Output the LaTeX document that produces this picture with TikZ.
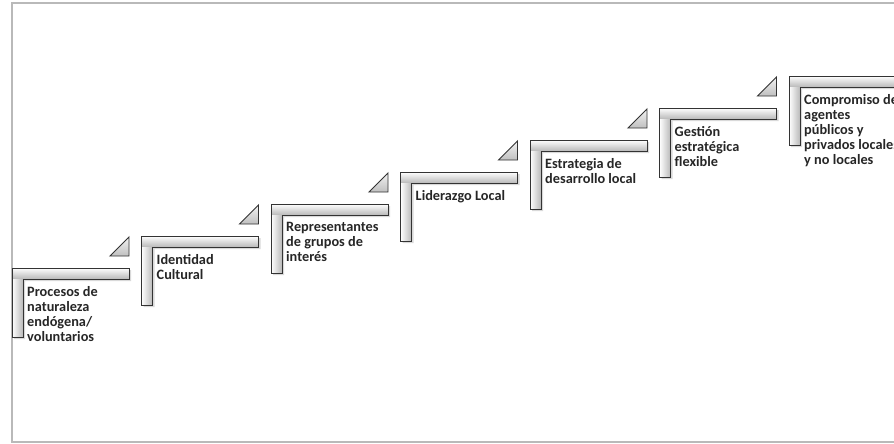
\documentclass[tikz,border=0pt]{standalone}
\usepackage{fontspec}
\setmainfont{Carlito}
\usetikzlibrary{positioning}

\tikzset{
  frame/.style={draw=gray!55, line width=2pt},
  barline/.style={draw=black!80, line width=0.9pt, line join=miter},
  hbar/.style={top color=white, bottom color=gray!55},
  vbar/.style={left color=white, right color=gray!55},
  wedge/.style={draw=black!80, line width=0.9pt, line join=miter, top color=gray!10, bottom color=gray!50},
  steptext/.style={anchor=north west, align=left, inner sep=0pt, text=black!85,
    font=\fontsize{14.3}{15}\selectfont\bfseries}
}

\begin{document}
\begin{tikzpicture}[x=1pt,y=-1pt]
  \useasboundingbox (0,0) rectangle (894,444);
  \clip (0,0) rectangle (894,444);
  \fill[white] (0,0) rectangle (894,444);
  \draw[frame] (900,3) -- (12,3) -- (12,442) -- (900,442);
  \foreach \i/\txt in {
      1/{Procesos de\\naturaleza\\endógena/\\voluntarios},
      2/{Identidad\\Cultural},
      3/{Representantes\\de grupos de\\interés},
      4/{Liderazgo Local},
      5/{Estrategia de\\desarrollo local},
      6/{Gestión\\estratégica\\flexible},
      7/{Compromiso de\\agentes\\públicos y\\privados locales\\y no locales}} {
    \pgfmathsetmacro\xa{12+129.5*(\i-1)}
    \pgfmathsetmacro\ya{268-32*(\i-1)}
    \begin{scope}[shift={(\xa,\ya)}]
      % shadow
      \fill[black!15] (2,71) -- (2,2) -- (119,2) -- (119,13) -- (13,13) -- (13,71) -- cycle;
      % step
      \fill[hbar] (0,0) rectangle (117,11);
      \fill[vbar] (0,11) rectangle (11,69);
      \draw[barline] (0,69) -- (0,0) -- (117,0) -- (117,11) -- (11,11) -- (11,69) -- cycle;
      \ifnum\i<7
        \draw[wedge] (98,-12) -- (117,-12) -- (117,-31) -- cycle;
      \fi
      \node[steptext] (s\i) at (15,18) {\txt};
    \end{scope}
  }
\end{tikzpicture}
\end{document}
